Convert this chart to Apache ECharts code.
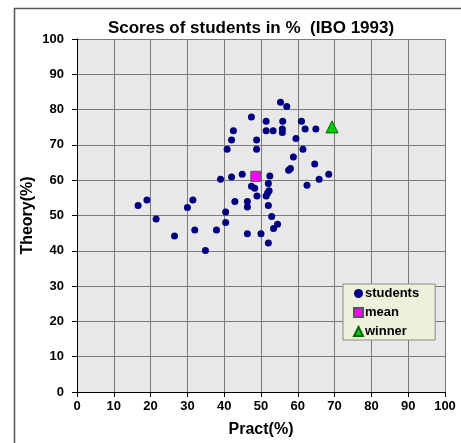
<!DOCTYPE html>
<html><head><meta charset="utf-8">
<script src="https://cdn.jsdelivr.net/npm/echarts@6/dist/echarts.min.js"></script>
<style>html,body{margin:0;padding:0;background:#fff}#c{width:461px;height:443px}</style>
</head><body><div id="c"></div>
<script>
const titleText = 'Scores of students in %  (IBO 1993)';
const xName = 'Pract(%)';
const yName = 'Theory(%)';
const studentPract = [16.6,19.0,21.5,26.5,30.0,31.5,32.0,34.9,37.9,39.0,40.4,40.4,40.8,42.0,42.5,42.0,42.9,44.9,46.3,46.3,46.3,47.4,47.4,48.3,48.8,48.8,48.9,50.0,51.4,51.4,51.4,51.8,52.2,52.0,52.4,52.0,52.0,52.9,53.4,54.5,53.3,55.3,57.0,55.9,55.8,55.8,57.5,58.0,58.8,59.5,61.0,61.4,62.0,62.5,64.9,64.6,65.8,68.4];
const studentTheory = [52.8,54.4,49.0,44.2,52.3,54.4,45.9,40.1,45.9,60.3,51.0,48.0,68.8,71.4,74.0,60.9,54.0,61.7,54.0,52.4,44.8,77.9,58.3,57.7,71.4,68.8,55.5,44.8,76.7,74.0,55.5,56.4,57.0,59.1,61.2,52.8,42.2,49.7,46.3,47.5,74.0,82.1,80.9,76.7,74.5,73.5,62.8,63.3,66.6,71.8,76.7,68.8,74.5,58.6,74.5,64.6,60.3,61.7];
const meanPoint = [48.6, 61.1];
const winnerPoint = [69.3, 75.1];
const seriesNames = ['students','mean','winner'];

const students = studentPract.map((x,i)=>[x, studentTheory[i]]);
const font = 'Liberation Sans, Arial, sans-serif';
const chart = echarts.init(document.getElementById('c'));
chart.setOption({
  animation:false,
  backgroundColor:'#ffffff',
  graphic:[{type:'rect',shape:{x:14.5,y:8.5,width:470,height:470},style:{fill:'none',stroke:'#555',lineWidth:1.5},z:-1}],
  title:{text:titleText,left:246,top:15,textAlign:'center',textStyle:{fontFamily:font,fontWeight:'bold',fontSize:17,color:'#000'}},
  grid:{left:77,top:39,right:16,bottom:51,backgroundColor:'#e8e8e8',show:true,borderWidth:0},
  xAxis:{type:'value',min:0,max:100,interval:10,name:xName,nameLocation:'middle',nameGap:30,nameMoveOverlap:false,
    nameTextStyle:{fontFamily:font,fontWeight:'bold',fontSize:16,color:'#000'},
    axisLine:{show:true,onZero:false,lineStyle:{color:'#000',width:1}},
    axisTick:{show:true,length:5,lineStyle:{color:'#000'}},
    axisLabel:{fontFamily:font,fontWeight:'bold',fontSize:13,color:'#000',margin:8},
    splitLine:{show:true,lineStyle:{color:'#7a7a7a',width:1}}},
  yAxis:{type:'value',min:0,max:100,interval:10,name:yName,nameLocation:'middle',nameGap:41,nameMoveOverlap:false,
    nameTextStyle:{fontFamily:font,fontWeight:'bold',fontSize:16,color:'#000'},
    axisLine:{show:true,onZero:false,lineStyle:{color:'#000',width:1}},
    axisTick:{show:true,length:5,lineStyle:{color:'#000'}},
    axisLabel:{fontFamily:font,fontWeight:'bold',fontSize:13,color:'#000',margin:13},
    splitLine:{show:true,lineStyle:{color:'#7a7a7a',width:1}}},
  legend:{orient:'vertical',left:343,top:284,width:80,
    backgroundColor:'#eef0dc',borderColor:'#888',borderWidth:1,padding:[3,16,2,10],
    itemGap:6,itemWidth:9,itemHeight:9,
    textStyle:{fontFamily:font,fontWeight:'bold',fontSize:13,color:'#000',padding:[0,0,0,-3]},
    data:[{name:seriesNames[0],icon:'circle'},{name:seriesNames[1],icon:'rect'},{name:seriesNames[2],icon:'triangle'}]},
  series:[
    {name:seriesNames[0],type:'scatter',data:students,symbol:'circle',symbolSize:7,
      itemStyle:{color:'#000080',opacity:1}},
    {name:seriesNames[1],type:'scatter',data:[meanPoint],symbol:'rect',symbolSize:10,
      itemStyle:{color:'#ff00ff',borderColor:'#555',borderWidth:1,opacity:1}},
    {name:seriesNames[2],type:'scatter',data:[winnerPoint],symbol:'triangle',symbolSize:12,
      itemStyle:{color:'#00cc00',borderColor:'#006600',borderWidth:1,opacity:1}}
  ]
});
</script></body></html>
